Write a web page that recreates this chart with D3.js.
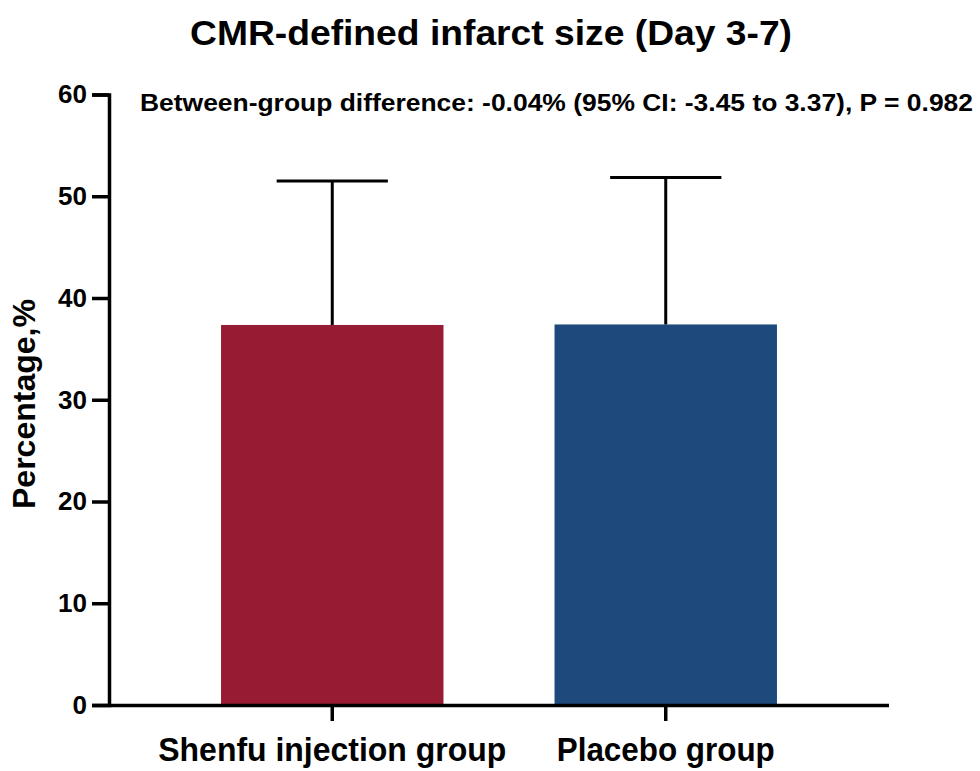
<!DOCTYPE html>
<html>
<head>
<meta charset="utf-8">
<script src="https://cdn.jsdelivr.net/npm/d3@7"></script>
<style>
  html, body { margin: 0; padding: 0; background: #fff; }
  svg { display: block; font-family: "Liberation Sans", Arial, sans-serif; }
</style>
</head>
<body>
<svg id="chart" width="980" height="771"></svg>
<script>
const categories = ["Shenfu injection group", "Placebo group"];
const means = [37.35, 37.4];
const sds = [14.15, 14.45];
const colors = ["#971b32", "#1d497d"];
const yTicks = [0, 10, 20, 30, 40, 50, 60];
const title = "CMR-defined infarct size (Day 3-7)";
const annotation = "Between-group difference: -0.04% (95% CI: -3.45 to 3.37), P = 0.982";
const yLabel = "Percentage,%";
const xLabelWidths = [348, 218];

const svg = d3.select("#chart");

const x = d3.scaleBand().domain(categories).range([109, 889])
  .paddingInner(0.333).paddingOuter(0.336);
const y = d3.scaleLinear().domain([0, 60]).range([705, 94.5]);

// bars
svg.append("g").selectAll("rect").data(categories).join("rect")
  .attr("x", d => x(d))
  .attr("width", x.bandwidth())
  .attr("y", (d, i) => y(means[i]))
  .attr("height", (d, i) => y(0) - y(means[i]))
  .attr("fill", (d, i) => colors[i]);

// error bars (upper only)
const capHalf = x.bandwidth() / 4;
const eb = svg.append("g").attr("stroke", "#000").attr("stroke-width", 3).attr("fill", "none");
categories.forEach((c, i) => {
  const cx = x(c) + x.bandwidth() / 2;
  eb.append("line").attr("x1", cx).attr("x2", cx)
    .attr("y1", y(means[i])).attr("y2", y(means[i] + sds[i]));
  eb.append("line").attr("x1", cx - capHalf).attr("x2", cx + capHalf)
    .attr("y1", y(means[i] + sds[i])).attr("y2", y(means[i] + sds[i]));
});

// y axis
const yAxis = svg.append("g").attr("transform", "translate(109,0)")
  .call(d3.axisLeft(y).tickValues(yTicks).tickSize(17).tickSizeOuter(17).tickPadding(5));
yAxis.selectAll("path, line").attr("stroke", "#000").attr("stroke-width", 3.5);
yAxis.selectAll("text").attr("font-size", 26).attr("font-weight", "bold")
  .attr("fill", "#000").attr("font-family", "Liberation Sans, Arial, sans-serif");

// x axis
const xAxis = svg.append("g").attr("transform", "translate(0,705)")
  .call(d3.axisBottom(x).tickSize(16).tickSizeOuter(0).tickPadding(17));
xAxis.select(".domain").attr("d", `M${x.range()[0]},0.5H${x.range()[1]}`);
xAxis.selectAll("path, line").attr("stroke", "#000").attr("stroke-width", 3.5);
xAxis.selectAll("text").attr("font-size", 33).attr("font-weight", "bold")
  .attr("fill", "#000").attr("font-family", "Liberation Sans, Arial, sans-serif")
  .attr("textLength", (d, i) => xLabelWidths[i])
  .attr("lengthAdjust", "spacingAndGlyphs");

// title
svg.append("text").attr("x", 491).attr("y", 45)
  .attr("text-anchor", "middle").attr("font-size", 35).attr("font-weight", "bold")
  .attr("textLength", 602).attr("lengthAdjust", "spacingAndGlyphs")
  .text(title);

// annotation
svg.append("text").attr("x", 140).attr("y", 111)
  .attr("font-size", 23).attr("font-weight", "bold")
  .attr("textLength", 833).attr("lengthAdjust", "spacingAndGlyphs")
  .text(annotation);

// y label
svg.append("text").attr("transform", "translate(35,404) rotate(-90)")
  .attr("text-anchor", "middle").attr("font-size", 31).attr("font-weight", "bold")
  .attr("textLength", 210).attr("lengthAdjust", "spacingAndGlyphs")
  .text(yLabel);
</script>
</body>
</html>
